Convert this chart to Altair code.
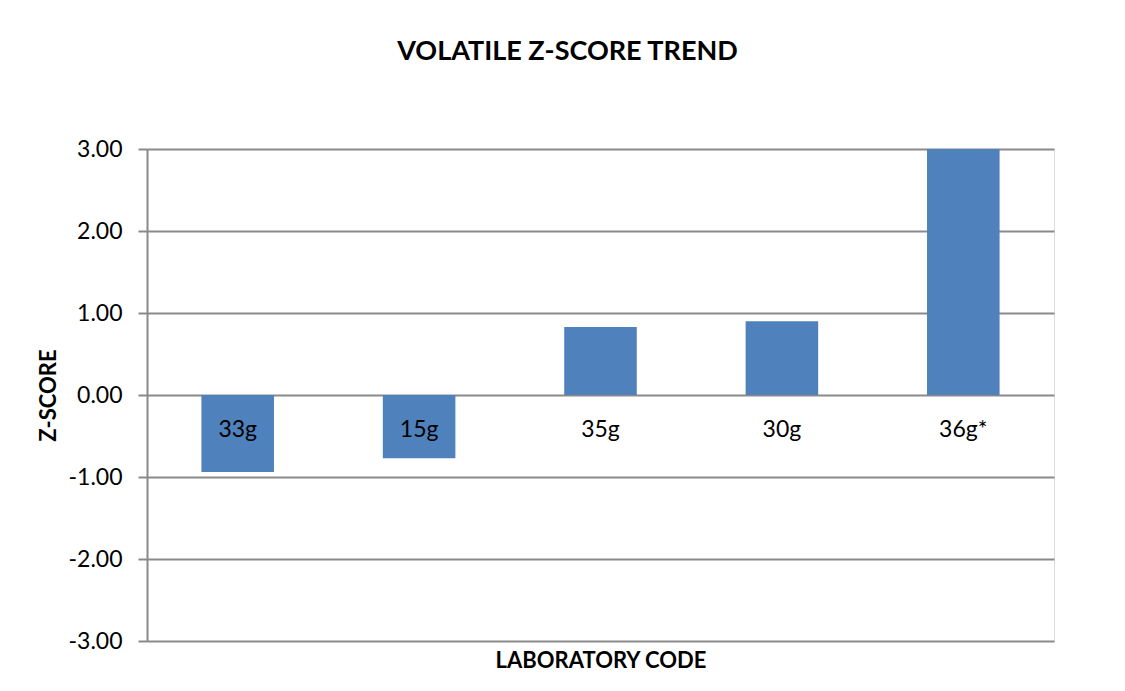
import altair as alt
import pandas as pd

codes = ["33g", "15g", "35g", "30g", "36g*"]
zscores = [-0.94, -0.77, 0.83, 0.90, 3.00]
y_ticks = [-3, -2, -1, 0, 1, 2, 3]

df = pd.DataFrame({"code": codes, "z": zscores})

FONT = "Lato"
GRID = "#8a8a8a"

x_enc = alt.X(
    "code:N",
    sort=codes,
    scale=alt.Scale(paddingInner=0.6, paddingOuter=0.3),
    axis=alt.Axis(
        title="LABORATORY CODE",
        labels=False,
        ticks=False,
        domain=False,
        titleFont=FONT,
        titleFontSize=22,
        titleFontWeight="bold",
        titleColor="#000000",
        titlePadding=9,
    ),
)

y_scale = alt.Scale(domain=[-3, 3], nice=False, clamp=True)

bars = alt.Chart(df).mark_bar(color="#4F81BD").encode(
    x=x_enc,
    y=alt.Y(
        "z:Q",
        scale=y_scale,
        axis=alt.Axis(
            title="Z-SCORE",
            values=y_ticks,
            labelExpr="(datum.value < 0 ? '-' : '') + format(abs(datum.value), '.2f')",
            grid=True,
            gridColor=GRID,
            gridWidth=2,
            domainColor=GRID,
            domainWidth=2,
            tickColor=GRID,
            tickWidth=2,
            tickSize=9,
            labelFont=FONT,
            labelFontSize=23,
            labelColor="#000000",
            labelPadding=16,
            titleFont=FONT,
            titleFontSize=22,
            titleFontWeight="bold",
            titleColor="#000000",
            titlePadding=8,
        ),
    ),
    y2=alt.datum(0),
)

labels = alt.Chart(df).mark_text(
    font=FONT, fontSize=23, color="#000000", baseline="alphabetic", dy=42
).encode(
    x=alt.X("code:N", sort=codes),
    y=alt.datum(0),
    text="code:N",
)

chart = (
    alt.layer(bars, labels)
    .properties(
        width=907,
        height=492,
        autosize=alt.AutoSizeParams(type="none"),
        padding={"left": 139, "top": 141, "right": 63, "bottom": 42},
        title=alt.TitleParams(
            "VOLATILE Z-SCORE TREND",
            font=FONT,
            fontSize=27,
            fontWeight="bold",
            color="#000000",
            anchor="middle",
            dx=-33,
            offset=72,
        ),
    )
    .configure_view(stroke=None)
    .configure(background="#ffffff")
)

chart.save("out.html", embed_options={"renderer": "svg", "actions": False})
